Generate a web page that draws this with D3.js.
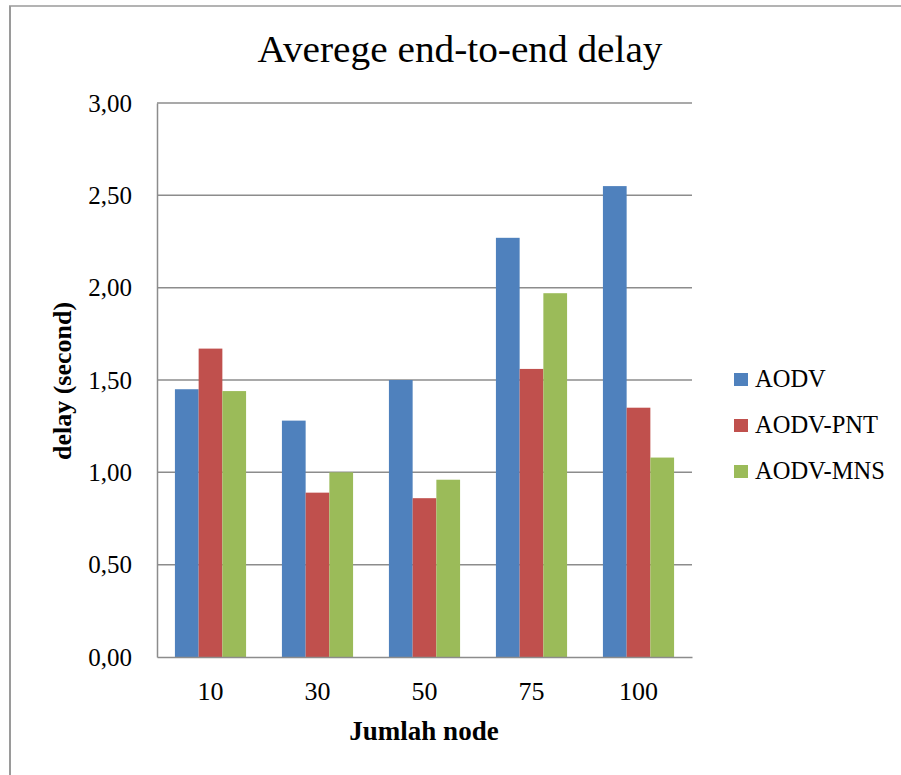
<!DOCTYPE html>
<html>
<head>
<meta charset="utf-8">
<script src="https://cdn.jsdelivr.net/npm/d3@7"></script>
<style>
  html, body { margin: 0; padding: 0; background: #fff; }
  svg { display: block; }
</style>
</head>
<body>
<script>
// Node counts on the x axis
const categories = ["10", "30", "50", "75", "100"];
// Series names shown in the legend
const seriesNames = ["AODV", "AODV-PNT", "AODV-MNS"];
// Average end-to-end delay (seconds) per series
const aodv    = [1.45, 1.28, 1.50, 2.27, 2.55];
const aodvPnt = [1.67, 0.89, 0.86, 1.56, 1.35];
const aodvMns = [1.44, 1.00, 0.96, 1.97, 1.08];
// Y axis ticks
const yTicks = [0, 0.5, 1.0, 1.5, 2.0, 2.5, 3.0];

const seriesValues = [aodv, aodvPnt, aodvMns];
const colors = ["#4F81BD", "#C0504D", "#9BBB59"];

const W = 901, H = 775;
const svg = d3.select("body").append("svg").attr("width", W).attr("height", H);
const serif = "'Liberation Serif', 'DejaVu Serif', serif";

// outer frame (left and top edges)
svg.append("line").attr("x1", 10).attr("x2", 10).attr("y1", 6).attr("y2", H)
  .attr("stroke", "#9a9a9a").attr("stroke-width", 2);
svg.append("line").attr("x1", 9).attr("x2", W).attr("y1", 6).attr("y2", 6)
  .attr("stroke", "#9a9a9a").attr("stroke-width", 1.5);

const plot = { left: 157, right: 692, top: 103, bottom: 657 };

const x0 = d3.scaleBand().domain(categories)
  .range([plot.left, plot.right]).paddingInner(0.335).paddingOuter(0.1675);
const x1 = d3.scaleBand().domain(d3.range(seriesNames.length))
  .range([0, x0.bandwidth()]);
const y = d3.scaleLinear().domain([0, 3]).range([plot.bottom, plot.top]);

// horizontal gridlines
svg.append("g").selectAll("line").data(yTicks.slice(1)).join("line")
  .attr("x1", plot.left).attr("x2", plot.right)
  .attr("y1", d => y(d)).attr("y2", d => y(d))
  .attr("stroke", "#8c8c8c").attr("stroke-width", 1.5);

// bars
const rows = categories.map((c, i) => ({ c, vals: seriesValues.map(s => s[i]) }));
svg.append("g").selectAll("g").data(rows).join("g")
  .attr("transform", d => `translate(${x0(d.c)},0)`)
  .selectAll("rect").data(d => d.vals.map((v, k) => ({ v, k }))).join("rect")
  .attr("x", d => x1(d.k)).attr("width", x1.bandwidth())
  .attr("y", d => y(d.v)).attr("height", d => y(0) - y(d.v))
  .attr("fill", d => colors[d.k]);

// y axis
const yAxis = d3.axisLeft(y).tickValues(yTicks).tickSize(0).tickPadding(25)
  .tickFormat(d => d3.format(".2f")(d).replace(".", ","));
const gy = svg.append("g").attr("transform", `translate(${plot.left},0)`).call(yAxis);
gy.select(".domain").attr("stroke", "#8c8c8c").attr("stroke-width", 1.5);
gy.selectAll("text").attr("font-family", serif).attr("font-size", 25)
  .attr("fill", "#000").attr("dy", "0.32em");

// x axis
const xAxis = d3.axisBottom(x0).tickSize(0).tickPadding(25);
const gx = svg.append("g").attr("transform", `translate(0,${plot.bottom})`).call(xAxis);
gx.select(".domain").attr("stroke", "#8c8c8c").attr("stroke-width", 1.5);
gx.selectAll("text").attr("font-family", serif).attr("font-size", 26).attr("fill", "#000");

// title
svg.append("text").attr("x", 460).attr("y", 62).attr("text-anchor", "middle")
  .attr("font-family", serif).attr("font-size", 38)
  .attr("textLength", 405).attr("lengthAdjust", "spacingAndGlyphs")
  .text("Averege end-to-end delay");

// axis titles
svg.append("text").attr("x", 424).attr("y", 740).attr("text-anchor", "middle")
  .attr("font-family", serif).attr("font-size", 27).attr("font-weight", "bold")
  .text("Jumlah node");
svg.append("text").attr("transform", "translate(71,381) rotate(-90)")
  .attr("text-anchor", "middle")
  .attr("font-family", serif).attr("font-size", 26).attr("font-weight", "bold")
  .text("delay (second)");

// legend
const legend = svg.append("g").selectAll("g").data(seriesNames).join("g")
  .attr("transform", (d, i) => `translate(734,${373 + i * 46})`);
legend.append("rect").attr("width", 14).attr("height", 13)
  .attr("fill", (d, i) => colors[i]);
legend.append("text").attr("x", 21).attr("y", 14)
  .attr("font-family", serif).attr("font-size", 24.5).text(d => d);
</script>
</body>
</html>
